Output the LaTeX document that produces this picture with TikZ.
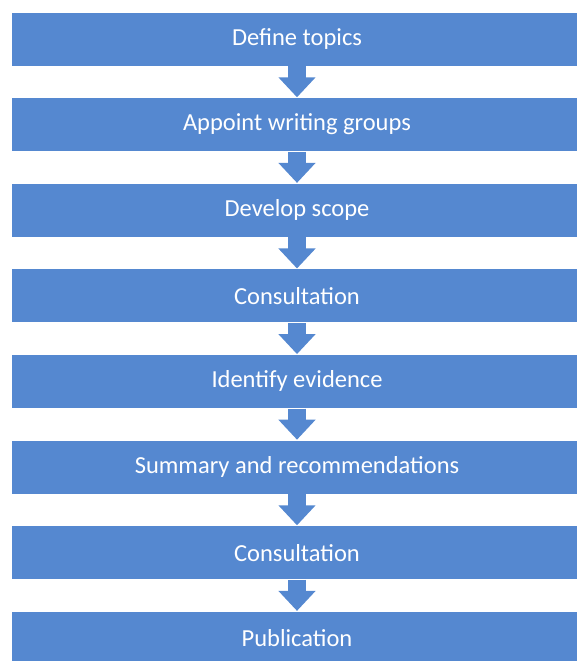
\documentclass[tikz,border=0pt]{standalone}
\usepackage{fontspec}
\setmainfont{Carlito}
\usetikzlibrary{arrows.meta}
\definecolor{boxblue}{RGB}{85,136,208}
\begin{document}
\begin{tikzpicture}[x=1pt,y=1pt,
  stepbox/.style={fill=boxblue, draw=white, line width=0.6pt, minimum width=572pt, minimum height=54pt,
    inner sep=0pt, text=white, font=\fontsize{24.5}{29}\selectfont},
  flow/.style={draw=boxblue, line width=18pt, -{Triangle[width=36pt,length=20pt]}}]
\useasboundingbox (0,0) rectangle (577,661);
\foreach \i/\t in {0/Define topics,1/Appoint writing groups,2/Develop scope,3/Consultation,4/Identify evidence,5/Summary and recommendations,6/Consultation,7/Publication}{
  \node[stepbox] (b\i) at (297, {661-39-85.6*\i}) {\t};
}
\foreach \i [evaluate=\i as \j using int(\i+1)] in {0,...,6}{
  \draw[flow] (b\i.south) -- (b\j.north);
}
\end{tikzpicture}
\end{document}
